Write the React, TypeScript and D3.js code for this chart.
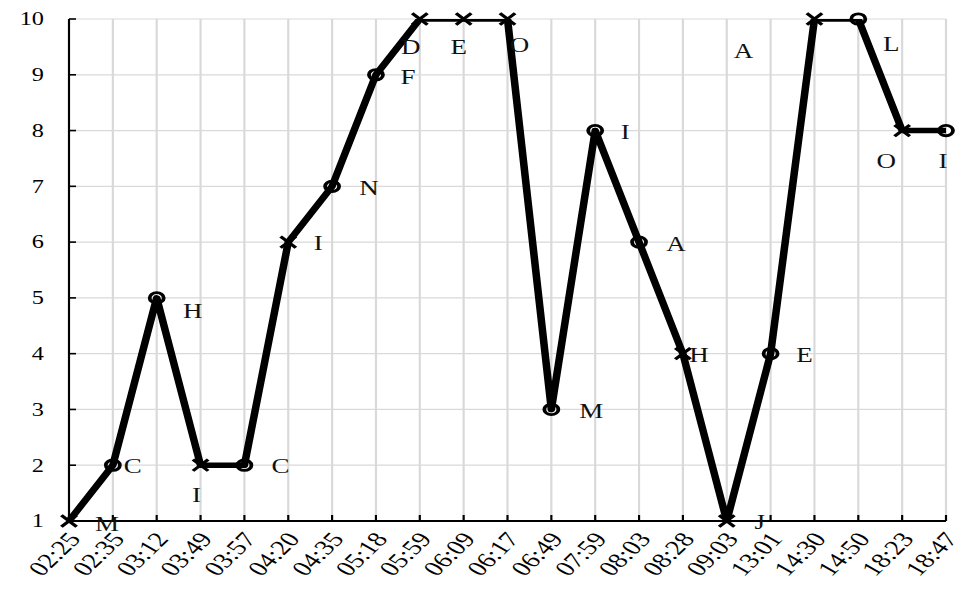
import React, { useEffect, useRef } from 'react';
import * as d3 from 'd3';

// the picture is stretched sideways, so everything is drawn in a narrower
// viewBox and the svg pulls it out to full width
const STRETCH = 1.35;
const W = 975;
const H = 592;
const VW = W / STRETCH;

const times = ['02:25', '02:35', '03:12', '03:49', '03:57', '04:20', '04:35', '05:18', '05:59', '06:09', '06:17',
  '06:49', '07:59', '08:03', '08:28', '09:03', '13:01', '14:30', '14:50', '18:23', '18:47'];
const values = [1, 2, 5, 2, 2, 6, 7, 9, 10, 10, 10, 3, 8, 6, 4, 1, 4, 10, 10, 8, 8];
const markers = ['x', 'o', 'o', 'x', 'o', 'x', 'o', 'o', 'x', 'x', 'x', 'o', 'o', 'o', 'x', 'x', 'o', 'x', 'o', 'x', 'o'];
const letters = ['M', 'C', 'H', 'I', 'C', 'I', 'N', 'F', 'D', 'E', 'O', 'M', 'I', 'A', 'H', 'J', 'E', 'A', 'L', 'O', 'I'];
const yTicks = [1, 2, 3, 4, 5, 6, 7, 8, 9, 10];

// where each letter sits relative to its point, in screen pixels
const letterOffsets: [number, number][] = [
  [38, 3], [20, 1], [36, 13], [-4, 30], [36, 1], [30, 1], [37, 2], [32, 2], [-9, 28], [-5, 28], [12, 26],
  [40, 2], [30, 1], [37, 2], [16, 1], [33, 1], [34, 1], [-71, 32], [33, 25], [-16, 30], [-3, 30],
];

const App = () => {
  const ref = useRef<SVGSVGElement>(null);

  useEffect(() => {
    const svg = d3.select(ref.current);
    svg.selectAll('*').remove();

    const left = 69 / STRETCH;
    const right = 946 / STRETCH;
    const top = 19;
    const bottom = 521;

    const x = d3.scalePoint<string>().domain(times).range([left, right]);
    const y = d3.scaleLinear().domain([1, 10]).range([bottom, top]);
    const font = '"Liberation Serif", "Times New Roman", serif';

    svg.append('defs').append('clipPath').attr('id', 'plot')
      .append('rect').attr('x', left - 10).attr('y', top).attr('width', right - left + 20).attr('height', bottom - top);

    // grid
    const grid = svg.append('g').attr('stroke', '#d9d9d9').attr('stroke-width', 1.6);
    grid.selectAll('line.v').data(times.slice(1)).join('line')
      .attr('x1', (d) => x(d)!).attr('x2', (d) => x(d)!).attr('y1', top).attr('y2', bottom);
    grid.selectAll('line.h').data(yTicks.slice(1)).join('line')
      .attr('class', 'h')
      .attr('x1', left).attr('x2', right).attr('y1', (d) => y(d)).attr('y2', (d) => y(d))
      .attr('stroke-width', 1.2);

    // axes
    const axes = svg.append('g').attr('stroke', '#000');
    axes.append('line').attr('x1', left).attr('x2', left).attr('y1', top).attr('y2', bottom).attr('stroke-width', 1.6);
    axes.append('line').attr('x1', left).attr('x2', right).attr('y1', bottom).attr('y2', bottom).attr('stroke-width', 2);
    axes.selectAll('line.yt').data(yTicks).join('line')
      .attr('class', 'yt')
      .attr('x1', left).attr('x2', left + 7 / STRETCH).attr('y1', (d) => y(d)).attr('y2', (d) => y(d))
      .attr('stroke-width', 1.6);
    axes.selectAll('line.xt').data(times).join('line')
      .attr('class', 'xt')
      .attr('x1', (d) => x(d)!).attr('x2', (d) => x(d)!).attr('y1', bottom).attr('y2', bottom - 6)
      .attr('stroke-width', 1.6);

    svg.append('g').selectAll('text').data(yTicks).join('text')
      .attr('x', 44 / STRETCH).attr('y', (d) => y(d)).attr('dy', '0.35em')
      .attr('text-anchor', 'end').attr('font-family', font).attr('font-size', 18)
      .text((d) => d);

    svg.append('g').selectAll('text').data(times).join('text')
      .attr('transform', (d) => `translate(${x(d)! + 5 / STRETCH},${bottom + 14}) rotate(-52)`)
      .attr('dy', '0.35em')
      .attr('text-anchor', 'end').attr('font-family', font).attr('font-size', 21)
      .text((d) => d);

    // the line
    const pts = times.map((t, i) => ({ t, v: values[i], m: markers[i], l: letters[i], i }));
    const line = d3.line<typeof pts[0]>().x((d) => x(d.t)!).y((d) => y(d.v));
    svg.append('path').datum(pts)
      .attr('d', line)
      .attr('clip-path', 'url(#plot)')
      .attr('fill', 'none').attr('stroke', '#000').attr('stroke-width', 5.6).attr('stroke-linejoin', 'round');

    const mk = svg.append('g');
    mk.selectAll('circle').data(pts.filter((d) => d.m === 'o')).join('circle')
      .attr('cx', (d) => x(d.t)!).attr('cy', (d) => y(d.v)).attr('r', 5.2)
      .attr('fill', 'none').attr('stroke', '#000').attr('stroke-width', 2.8);
    const cross = d3.symbol().type(d3.symbolX).size(85);
    mk.selectAll('path').data(pts.filter((d) => d.m === 'x')).join('path')
      .attr('transform', (d) => `translate(${x(d.t)},${y(d.v)})`)
      .attr('d', cross).attr('fill', 'none').attr('stroke', '#000').attr('stroke-width', 2.8);

    svg.append('g').selectAll('text').data(pts).join('text')
      .attr('x', (d) => x(d.t)! + letterOffsets[d.i][0] / STRETCH)
      .attr('y', (d) => y(d.v) + letterOffsets[d.i][1])
      .attr('dy', '0.35em').attr('text-anchor', 'middle')
      .attr('font-family', font).attr('font-size', 20).attr('fill', '#111')
      .text((d) => d.l);
  }, []);

  return (
    <div style={{ position: 'absolute', left: 0, top: 0, background: '#fff' }}>
      <svg ref={ref} width={W} height={H} viewBox={`0 0 ${VW} ${H}`} preserveAspectRatio="none" style={{ display: 'block' }} />
    </div>
  );
};

export default App;
